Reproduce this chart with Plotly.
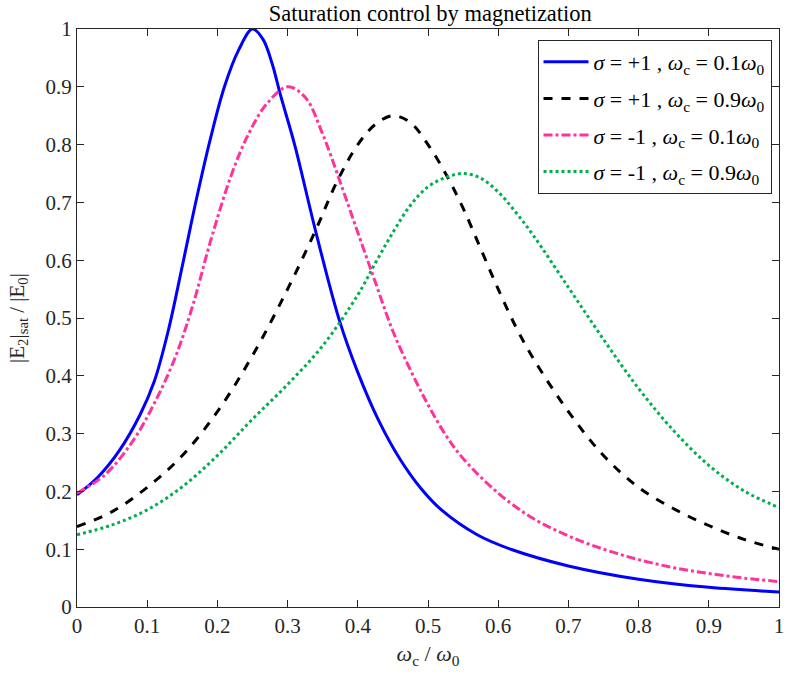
import plotly.graph_objects as go

# Blue: sigma=+1, wc=0.1w0
x_b = [0, 0.03, 0.06, 0.09, 0.11, 0.13, 0.15, 0.17, 0.19, 0.21, 0.23, 0.25,
       0.265, 0.278, 0.29, 0.31, 0.34, 0.374, 0.40, 0.43, 0.46, 0.49, 0.52, 0.57, 0.62,
       0.70, 0.80, 0.90, 1.0]
y_b = [0.194, 0.225, 0.27, 0.333, 0.39, 0.478, 0.59, 0.705, 0.81, 0.90, 0.963, 1.0,
       0.982, 0.94, 0.885, 0.80, 0.65, 0.495, 0.406, 0.322, 0.256, 0.205, 0.167, 0.125, 0.099,
       0.071, 0.048, 0.034, 0.026]

# Black: sigma=+1, wc=0.9w0
x_k = [0, 0.05, 0.10, 0.15, 0.20, 0.25, 0.30, 0.34, 0.37, 0.40, 0.425, 0.45, 0.475, 0.50,
       0.525, 0.55, 0.575, 0.60, 0.625, 0.65, 0.70, 0.75, 0.80, 0.85, 0.90, 0.95, 1.0]
y_k = [0.139, 0.165, 0.207, 0.262, 0.338, 0.435, 0.55, 0.652, 0.735, 0.80, 0.835, 0.85, 0.838,
       0.80, 0.75, 0.69, 0.62, 0.55, 0.485, 0.43, 0.338, 0.262, 0.207, 0.170, 0.141, 0.117, 0.100]

# Pink: sigma=-1, wc=0.1w0
x_p = [0, 0.04, 0.08, 0.11, 0.14, 0.165, 0.19, 0.22, 0.245, 0.27, 0.30, 0.325, 0.35, 0.375,
       0.40, 0.425, 0.45, 0.475, 0.50, 0.525, 0.55, 0.60, 0.65, 0.70, 0.75, 0.80, 0.85,
       0.90, 0.95, 1.0]
y_p = [0.197, 0.229, 0.288, 0.352, 0.432, 0.522, 0.632, 0.748, 0.82, 0.87, 0.90, 0.882, 0.818,
       0.735, 0.648, 0.562, 0.477, 0.41, 0.35, 0.298, 0.257, 0.197, 0.153, 0.123, 0.10, 0.082,
       0.068, 0.058, 0.05, 0.044]

# Green: sigma=-1, wc=0.9w0
x_g = [0, 0.05, 0.10, 0.15, 0.20, 0.25, 0.30, 0.35, 0.40, 0.425, 0.45, 0.475, 0.50, 0.525,
       0.55, 0.575, 0.60, 0.625, 0.65, 0.70, 0.75, 0.80, 0.85, 0.90, 0.95, 1.0]
y_g = [0.125, 0.142, 0.168, 0.208, 0.262, 0.325, 0.385, 0.452, 0.54, 0.595, 0.648, 0.695, 0.727,
       0.743, 0.75, 0.742, 0.718, 0.683, 0.643, 0.553, 0.463, 0.378, 0.305, 0.245, 0.201, 0.172]

names = [
    "<i>σ</i> = +1 , <i>ω</i><sub>c</sub> = 0.1<i>ω</i><sub>0</sub>",
    "<i>σ</i> = +1 , <i>ω</i><sub>c</sub> = 0.9<i>ω</i><sub>0</sub>",
    "<i>σ</i> = -1 , <i>ω</i><sub>c</sub> = 0.1<i>ω</i><sub>0</sub>",
    "<i>σ</i> = -1 , <i>ω</i><sub>c</sub> = 0.9<i>ω</i><sub>0</sub>",
]

series = [
    (x_b, y_b, "#0000ff", "solid"),
    (x_k, y_k, "#000000", "dash"),
    (x_p, y_p, "#ff3399", "dashdot"),
    (x_g, y_g, "#00b050", "dot"),
]

fig = go.Figure()
for i, (xs, ys, col, dsh) in enumerate(series):
    fig.add_trace(go.Scatter(x=xs, y=ys, mode="lines", name=names[i], legendgroup=f"g{i}",
                             line=dict(color=col, width=3, dash=dsh, shape="spline", smoothing=1.0)))

font_family = "Liberation Serif, Times New Roman, Times, serif"
axis_common = dict(
    showline=True, linecolor="#262626", linewidth=1, mirror="ticks",
    ticks="inside", ticklen=7, tickcolor="#262626", tickwidth=1,
    showgrid=False, zeroline=False,
    tickfont=dict(family=font_family, size=21, color="#262626"),
)

fig.update_layout(
    width=794, height=682,
    margin=dict(l=77, r=10, t=29, b=75),
    paper_bgcolor="white", plot_bgcolor="white",
    title=dict(text="Saturation control by magnetization", x=0.542, xanchor="center",
               y=0.981, yanchor="middle",
               font=dict(family=font_family, size=22.5, color="black")),
    xaxis=dict(range=[0, 1], dtick=0.1, tickformat="~g",
               title=dict(text="<i>ω</i><sub>c</sub> / <i>ω</i><sub>0</sub>",
                          font=dict(family=font_family, size=22, color="#262626"), standoff=8),
               **axis_common),
    yaxis=dict(range=[0, 1], dtick=0.1, tickformat="~g",
               title=dict(text="|E<sub>2</sub>|<sub>sat</sub> / |E<sub>0</sub>|",
                          font=dict(family=font_family, size=21, color="#262626"), standoff=15),
               **axis_common),
    legend=dict(x=0.656, y=0.981, xanchor="left", yanchor="top",
                bordercolor="#262626", borderwidth=1, bgcolor="white",
                font=dict(family=font_family, size=22, color="black"),
                itemwidth=45, tracegroupgap=5),
    showlegend=True,
)

fig.write_html("out.html")
